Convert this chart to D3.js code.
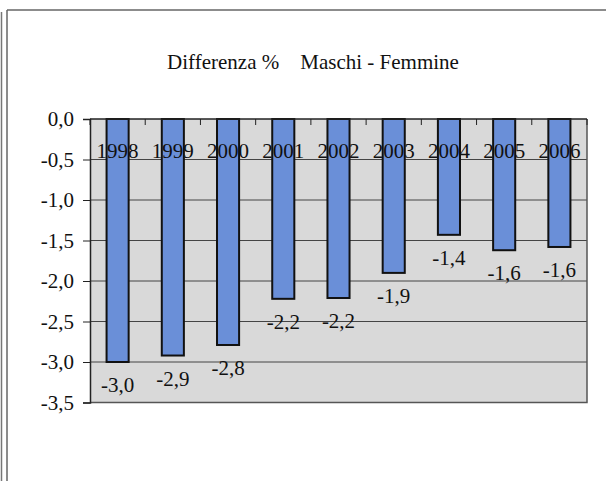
<!DOCTYPE html>
<html>
<head>
<meta charset="utf-8">
<script src="https://cdn.jsdelivr.net/npm/d3@7.9.0/dist/d3.min.js"></script>
<style>
  body { margin: 0; background: #fff; }
  svg { display: block; font-family: "Liberation Serif", "Times New Roman", serif; }
</style>
</head>
<body>
<div id="chart"></div>
<script>
// data
const years = ["1998", "1999", "2000", "2001", "2002", "2003", "2004", "2005", "2006"];
const diffs = [-3.0, -2.92, -2.79, -2.22, -2.21, -1.9, -1.43, -1.62, -1.58];
const yTicks = [0, -0.5, -1.0, -1.5, -2.0, -2.5, -3.0, -3.5];
const title = "Differenza %    Maschi - Femmine";

// config
const width = 606,
  height = 481;
const plot = { left: 90, right: 587, top: 119, bottom: 402.5 };
const fontSize = "21px";

const svg = d3
  .select("#chart")
  .append("svg")
  .attr("width", width)
  .attr("height", height);

// outer frame (double line on the left, single on top)
svg.append("line")
  .attr("x1", 1.5).attr("x2", 1.5).attr("y1", 12).attr("y2", height)
  .attr("stroke", "#777").attr("stroke-width", 1.5);
svg.append("line")
  .attr("x1", 7).attr("x2", 7).attr("y1", 10).attr("y2", height)
  .attr("stroke", "#666").attr("stroke-width", 1.5);
svg.append("line")
  .attr("x1", 7).attr("x2", width).attr("y1", 10).attr("y2", 10)
  .attr("stroke", "#666").attr("stroke-width", 1.5);

// title
svg.append("text")
  .attr("x", 313)
  .attr("y", 69)
  .attr("text-anchor", "middle")
  .style("font-size", fontSize)
  .style("white-space", "pre")
  .attr("fill", "#111")
  .text(title);

const fmt = (v) => d3.format(".1f")(v).replace(".", ",").replace("−", "-");

const x = d3
  .scaleBand()
  .domain(years)
  .range([plot.left, plot.right])
  .paddingInner(0.6)
  .paddingOuter(0.3);

const y = d3
  .scaleLinear()
  .domain([0, -3.5])
  .range([plot.top, plot.bottom]);

// plot background
svg.append("rect")
  .attr("x", plot.left)
  .attr("y", plot.top)
  .attr("width", plot.right - plot.left)
  .attr("height", plot.bottom - plot.top)
  .attr("fill", "#d9d9d9");

// gridlines
svg.append("g")
  .selectAll("line")
  .data(yTicks.slice(1, -1))
  .join("line")
  .attr("x1", plot.left)
  .attr("x2", plot.right)
  .attr("y1", (d) => y(d))
  .attr("y2", (d) => y(d))
  .attr("stroke", "#444")
  .attr("stroke-width", 1);

// plot border (right, bottom)
svg.append("path")
  .attr("d", `M${plot.left},${plot.bottom}H${plot.right}V${plot.top}`)
  .attr("fill", "none")
  .attr("stroke", "#555")
  .attr("stroke-width", 1.5);

// bars
svg.append("g")
  .selectAll("rect")
  .data(diffs)
  .join("rect")
  .attr("x", (d, i) => x(years[i]))
  .attr("y", y(0))
  .attr("width", x.bandwidth())
  .attr("height", (d) => y(d) - y(0))
  .attr("fill", "#6a8fd8")
  .attr("stroke", "#111")
  .attr("stroke-width", 2);

// value labels
svg.append("g")
  .selectAll("text")
  .data(diffs)
  .join("text")
  .attr("x", (d, i) => x(years[i]) + x.bandwidth() / 2)
  .attr("y", (d) => y(d) + 30)
  .attr("text-anchor", "middle")
  .style("font-size", fontSize)
  .attr("fill", "#111")
  .text((d) => fmt(d));

// y axis
const yAxis = svg
  .append("g")
  .attr("transform", `translate(${plot.left},0)`)
  .call(
    d3.axisLeft(y)
      .tickValues(yTicks)
      .tickSize(7)
      .tickPadding(9)
      .tickFormat(fmt)
  );
yAxis.select(".domain").attr("stroke", "#222").attr("stroke-width", 1.5);
yAxis.selectAll(".tick line").attr("stroke", "#222");
yAxis.selectAll("text")
  .style("font-size", fontSize)
  .style("font-family", "Liberation Serif, serif")
  .attr("fill", "#111");

// category axis along zero line, ticks between categories
const step = x.step();
const bounds = d3.range(years.length + 1).map((i) => plot.left + i * step);
svg.append("line")
  .attr("x1", plot.left).attr("x2", plot.right)
  .attr("y1", y(0)).attr("y2", y(0))
  .attr("stroke", "#222").attr("stroke-width", 1.5);
svg.append("g")
  .selectAll("line")
  .data(bounds)
  .join("line")
  .attr("x1", (d) => d).attr("x2", (d) => d)
  .attr("y1", y(0)).attr("y2", y(0) + 6)
  .attr("stroke", "#222");

// category labels (drawn over the bars)
svg.append("g")
  .selectAll("text")
  .data(years)
  .join("text")
  .attr("x", (d) => x(d) + x.bandwidth() / 2)
  .attr("y", 157.5)
  .attr("text-anchor", "middle")
  .style("font-size", fontSize)
  .attr("fill", "#111")
  .text((d) => d);
</script>
</body>
</html>
